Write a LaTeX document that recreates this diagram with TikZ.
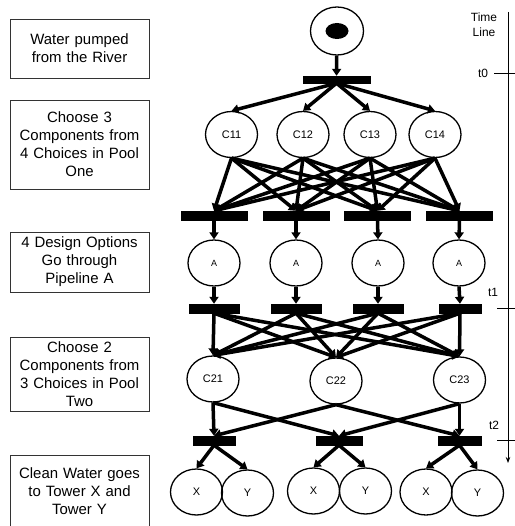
\documentclass[tikz,border=0pt]{standalone}
\usepackage{fontspec}
\setmainfont{Liberation Sans}
\usetikzlibrary{shapes.geometric,arrows.meta}

\begin{document}
\begin{tikzpicture}[x=1bp,y=-1bp,
	place/.style={draw,ellipse,line width=1.3bp,minimum width=52bp,minimum height=46bp,inner sep=0pt,font=\fontsize{11}{13}\selectfont},
	trans/.style={draw,fill=black,minimum height=9bp,inner sep=0pt},
	stage/.style={draw=black!80,line width=0.8bp,text width=136bp,minimum width=139bp,align=center,inner sep=0pt,font=\fontsize{15}{18}\selectfont},
	flow/.style={line width=3.5bp,-{Triangle[length=7bp,width=9bp]}}]

	\useasboundingbox (0,0) rectangle (515,526);

		% stages on the left
		\node[stage,minimum height=59bp] (s1) at (79.5,48.5) {Water pumped\\from the River};
		\node[stage,minimum height=89bp] (s2) at (79.5,144.5) {Choose 3\\Components from\\4 Choices in Pool\\One};
		\node[stage,minimum height=60bp] (s3) at (79.5,262) {4 Design Options\\Go through\\Pipeline A};
		\node[stage,minimum height=74bp] (s4) at (79.5,374) {Choose 2\\Components from\\3 Choices in Pool\\Two};
		\node[stage,minimum height=72bp] (s5) at (79.5,491.5) {Clean Water goes\\to Tower X and\\Tower Y};

		% places and transitions
		\node[place,minimum width=53bp,minimum height=48bp] (src) at (337,31) {};
		\fill (src.center) ellipse (11.5bp and 8bp); %token
		\node[trans,minimum width=67bp,minimum height=7bp] (t0) at (336.5,79.5) {};

		\node[place] (c11) at (231.5,134.5) {C11};
		\node[place] (c12) at (303,134.5) {C12};
		\node[place] (c13) at (370,134.5) {C13};
		\node[place] (c14) at (435,134.5) {C14};

		\node[trans,minimum width=66bp] (ta1) at (214,215.5) {};
		\node[trans,minimum width=66bp] (ta2) at (296,215.5) {};
		\node[trans,minimum width=66bp] (ta3) at (377.5,215.5) {};
		\node[trans,minimum width=66bp] (ta4) at (459.5,215.5) {};

		\node[place,font=\fontsize{9}{11}\selectfont] (a1) at (214,263) {A};
		\node[place,font=\fontsize{9}{11}\selectfont] (a2) at (296,263) {A};
		\node[place,font=\fontsize{9}{11}\selectfont] (a3) at (378,263) {A};
		\node[place,font=\fontsize{9}{11}\selectfont] (a4) at (459,263) {A};

		\node[trans,minimum width=50bp] (tb1) at (214,308.5) {};
		\node[trans,minimum width=50bp] (tb2) at (296,308.5) {};
		\node[trans,minimum width=50bp] (tb3) at (378,308.5) {};
		\node[trans,minimum width=42bp] (tb4) at (460,308.5) {};

		\node[place] (c21) at (213,379) {C21};
		\node[place] (c22) at (336,381) {C22};
		\node[place] (c23) at (459.5,380) {C23};

		\node[trans,minimum width=42bp] (tc1) at (214,440.5) {};
		\node[trans,minimum width=46bp] (tc2) at (339,440.5) {};
		\node[trans,minimum width=43bp] (tc3) at (459.5,440.5) {};

		\node[place] (x1) at (196.5,492) {X};
		\node[place] (y1) at (247.5,493) {Y};
		\node[place] (x2) at (313.5,491) {X};
		\node[place] (y2) at (365.5,491) {Y};
		\node[place] (x3) at (426,492) {X};
		\node[place] (y3) at (477.5,493) {Y};

		% arcs
		\draw[flow] (src) -- (t0);
		\foreach \c in {c11,c12,c13,c14}
			\draw[flow] (t0.south) -- (\c.north);
		\foreach \c in {c11,c12,c13,c14}
			\foreach \t in {ta1,ta2,ta3,ta4}
				\draw[flow] (\c.south) -- (\t.north);
		\foreach \i in {1,2,3,4} {
			\draw[flow] (ta\i.south) -- (a\i.north);
			\draw[flow] (a\i.south) -- (tb\i.north);
		}
		\foreach \t in {tb1,tb2,tb3,tb4}
			\foreach \c in {c21,c22,c23}
				\draw[flow] (\t.south) -- (\c.north);
		\draw[flow] (c21.south) -- (tc1.north);
		\draw[flow] (c21.south) -- (tc2.north);
		\draw[flow] (c22.south) -- (tc1.north);
		\draw[flow] (c22.south) -- (tc3.north);
		\draw[flow] (c23.south) -- (tc2.north);
		\draw[flow] (c23.south) -- (tc3.north);
		\foreach \i in {1,2,3} {
			\draw[flow] (tc\i.south) -- (x\i.north);
			\draw[flow] (tc\i.south) -- (y\i.north);
		}

		% time line
		\coordinate (tltop) at (508,12);
		\coordinate (tlend) at (508,463);
		\draw[line width=0.8bp,-{Stealth[length=6bp,width=4.5bp]}] (tltop) -- (tlend);
		\draw[line width=0.8bp] (494,73) -- (515,73);
		\draw[line width=0.8bp] (497,308) -- (515,308);
		\draw[line width=0.8bp] (497,440) -- (515,440);
		\node[align=center,font=\fontsize{12}{15}\selectfont] (tlabel) at (484,25) {Time\\Line};
		\node[font=\fontsize{12}{14}\selectfont] (lt0) at (483,73) {t0};
		\node[font=\fontsize{12}{14}\selectfont] (lt1) at (493,292) {t1};
		\node[font=\fontsize{12}{14}\selectfont] (lt2) at (494,425) {t2};

	\end{tikzpicture}
\end{document}
